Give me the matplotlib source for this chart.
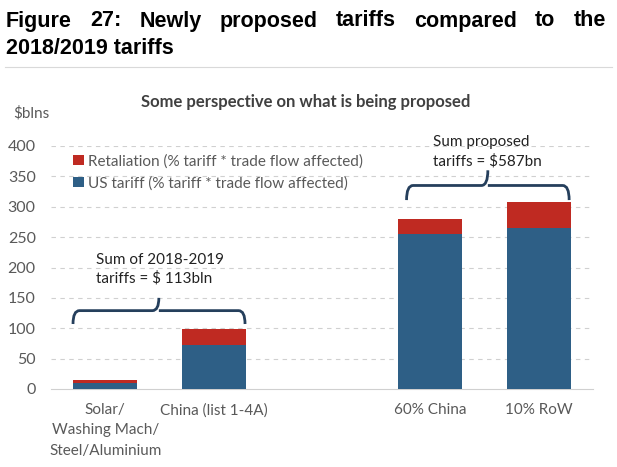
import matplotlib
matplotlib.use("Agg")
import matplotlib.pyplot as plt
from matplotlib.path import Path
from matplotlib.patches import PathPatch

categories = ["Solar/\nWashing Mach/\nSteel/Aluminium", "China (list 1-4A)", "", "60% China", "10% RoW"]
us_tariff = [10, 73, 0, 255, 265]
retaliation = [4, 26, 0, 25, 42]
positions = [0, 1, 2, 3, 4]
yticks = [0, 50, 100, 150, 200, 250, 300, 350, 400]

BLUE = "#2E5F86"
RED = "#BF2A22"
GREY = "#595959"
BRACE = "#253F5C"

plt.rcParams["font.family"] = ["Lato", "DejaVu Sans"]

fig = plt.figure(figsize=(6.17, 4.67), dpi=100)
ax = fig.add_axes([51 / 617, 1 - 389 / 467, 542 / 617, 243 / 467])

idx = [i for i, c in enumerate(categories) if c]
ax.bar([positions[i] for i in idx], [us_tariff[i] for i in idx], width=0.59,
       color=BLUE, label="US tariff (% tariff * trade flow affected)", zorder=3)
ax.bar([positions[i] for i in idx], [retaliation[i] for i in idx], width=0.59,
       bottom=[us_tariff[i] for i in idx], color=RED,
       label="Retaliation (% tariff * trade flow affected)", zorder=3)

ax.set_xlim(-0.5, 4.5)
ax.set_ylim(0, 400)
ax.set_yticks(yticks)
ax.set_xticks(positions)
ax.set_xticklabels(categories, linespacing=1.6)
ax.tick_params(axis="both", length=0, labelcolor=GREY)
ax.tick_params(axis="y", pad=11, labelsize=11.5)
ax.tick_params(axis="x", pad=10, labelsize=11)
for y in yticks[1:]:
    ax.axhline(y, color="#d0d0d0", lw=0.8, ls=(0, (4, 4)), zorder=1)
for s in ["left", "right", "top"]:
    ax.spines[s].set_visible(False)
ax.spines["bottom"].set_color("#d0d0d0")

handles, labels = ax.get_legend_handles_labels()
ax.legend(handles[::-1], labels[::-1], loc="upper left",
          bbox_to_anchor=(73 / 617, 1 - 154 / 467), bbox_transform=fig.transFigure,
          frameon=False, fontsize=11, labelcolor=GREY, handlelength=0.7,
          handleheight=0.7, handletextpad=0.25, labelspacing=0.5, borderpad=0,
          borderaxespad=0)


def brace(x0, x1, xm, y_end, y_mid, y_tip):
    r = 0.06
    verts = [(x0, y_end), (x0, y_mid), (x0 + r, y_mid),
             (xm - r, y_mid), (xm, y_mid), (xm, y_tip),
             (xm, y_mid), (xm + r, y_mid),
             (x1 - r, y_mid), (x1, y_mid), (x1, y_end)]
    codes = [Path.MOVETO, Path.CURVE3, Path.CURVE3,
             Path.LINETO, Path.CURVE3, Path.CURVE3,
             Path.MOVETO, Path.LINETO,
             Path.LINETO, Path.CURVE3, Path.CURVE3]
    ax.add_patch(PathPatch(Path(verts, codes), fill=False, ec=BRACE, lw=2,
                           clip_on=False, zorder=4))


brace(-0.297, 1.29, 0.495, 107, 129, 150)
brace(2.78, 4.28, 3.53, 311, 335, 360)

ax.text(-0.085, 197, "Sum of 2018-2019\ntariffs = $ 113bln", ha="left", va="center",
        fontsize=11, color="#222222", linespacing=1.4)
ax.text(3.02, 391, "Sum proposed\ntariffs = $587bn", ha="left", va="center",
        fontsize=11, color="#222222", linespacing=1.4, clip_on=False)

fig.text(306 / 617, 1 - 102 / 467, "Some perspective on what is being proposed",
         ha="center", va="center", fontsize=12, fontweight="bold", color="#404040")
fig.text(13 / 617, 1 - 113 / 467, "$blns", ha="left", va="center",
         fontsize=11, color=GREY)

# justified title, first line spread across full width
title_font = ["Liberation Sans", "DejaVu Sans"]
fig.canvas.draw()
renderer = fig.canvas.get_renderer()
words = "Figure 27: Newly proposed tariffs compared to the".split()
left, right = 6, 606
texts = [fig.text(0, 1 - 21 / 467, w, fontsize=15.5, fontweight="bold",
                  family=title_font, va="center") for w in words]
widths = [t.get_window_extent(renderer).width for t in texts]
gap = (right - left - sum(widths)) / (len(words) - 1)
x = left
for t, w in zip(texts, widths):
    t.set_x(x / 617)
    x += w + gap
fig.text(6 / 617, 1 - 48 / 467, "2018/2019 tariffs", fontsize=15.5, fontweight="bold",
         family=title_font, va="center")
fig.add_artist(plt.Line2D([5 / 617, 612 / 617], [1 - 67 / 467] * 2,
                          color="#d9d9d9", lw=0.8, transform=fig.transFigure))

fig.savefig("out.png", dpi=100)
